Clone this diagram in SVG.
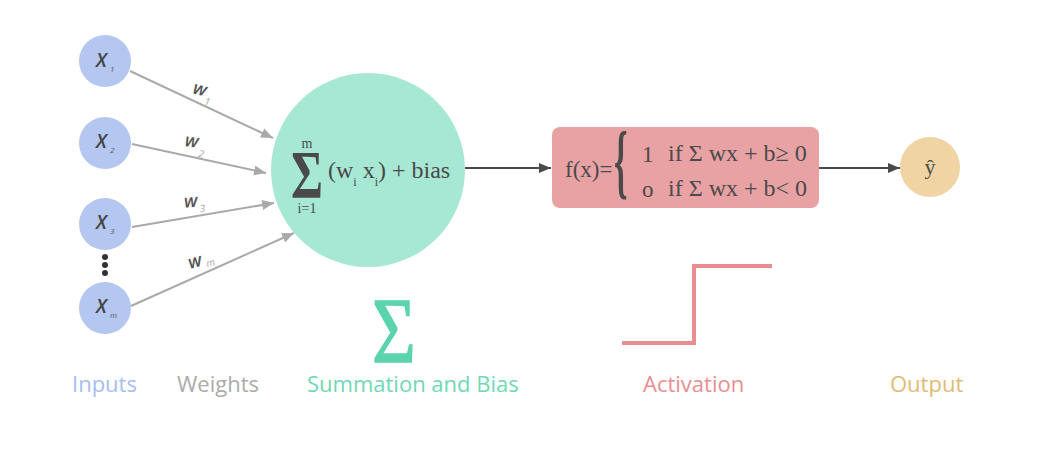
<svg xmlns="http://www.w3.org/2000/svg" width="1048" height="454" viewBox="0 0 1048 454">
<style>
.inp{fill:#b4c7f0}
.xl{font-family:"Open Sans","DejaVu Sans",sans-serif;font-style:italic;font-weight:600;font-size:19px;fill:#444}
.xs{font-family:"Open Sans","DejaVu Sans",sans-serif;font-style:italic;font-size:8px;fill:#555}
.wl{font-family:"Open Sans","DejaVu Sans",sans-serif;font-style:italic;font-weight:600;font-size:18px;fill:#555}
.ws{font-family:"Open Sans","DejaVu Sans",sans-serif;font-style:italic;font-size:10px;fill:#aaa}
.wire{stroke:#a9a9a9;stroke-width:2;fill:none}
.dark{stroke:#4a4a4a;stroke-width:2;fill:none}
.ser{font-family:"Liberation Serif","DejaVu Serif",serif;fill:#4a4a4a}
.cap{font-family:"Open Sans","DejaVu Sans",sans-serif;font-size:22px}
</style>
<defs>
<marker id="ag" viewBox="0 0 12 10" refX="12" refY="5" markerWidth="12" markerHeight="10" markerUnits="userSpaceOnUse" orient="auto"><path d="M0,0 L12,5 L0,10 Z" fill="#a9a9a9"/></marker>
<marker id="ad" viewBox="0 0 12 10" refX="12" refY="5" markerWidth="12" markerHeight="10" markerUnits="userSpaceOnUse" orient="auto"><path d="M0,0 L12,5 L0,10 Z" fill="#4a4a4a"/></marker>
</defs>

<g id="connectors">
<line class="wire" x1="130" y1="71" x2="273" y2="138" marker-end="url(#ag)"/>
<line class="wire" x1="132" y1="144" x2="266" y2="173" marker-end="url(#ag)"/>
<line class="wire" x1="132" y1="227" x2="274" y2="203" marker-end="url(#ag)"/>
<line class="wire" x1="131" y1="306" x2="294" y2="233" marker-end="url(#ag)"/>
<line class="dark" x1="465" y1="168" x2="551" y2="168" marker-end="url(#ad)"/>
<line class="dark" x1="819" y1="168" x2="900" y2="168" marker-end="url(#ad)"/>
</g>

<g id="weights">
<g transform="rotate(14 200 90)"><text class="wl" x="193" y="95">w</text><text class="ws" x="207" y="103">1</text></g>
<g transform="rotate(8 192 142)"><text class="wl" x="185" y="147">w</text><text class="ws" x="200" y="156">2</text></g>
<g transform="rotate(-5 192 202)"><text class="wl" x="184" y="207">w</text><text class="ws" x="199" y="213">3</text></g>
<g transform="rotate(-16 200 260)"><text class="wl" x="188" y="266">w</text><text class="ws" x="205" y="269">m</text></g>
</g>

<g id="x1"><circle class="inp" cx="105" cy="61" r="26"/><text class="xl" x="96" y="67">X</text><text class="xs" x="110" y="72">1</text></g>
<g id="x2"><circle class="inp" cx="105" cy="143" r="26"/><text class="xl" x="96" y="148">X</text><text class="xs" x="110" y="153">2</text></g>
<g id="x3"><circle class="inp" cx="105" cy="224" r="26"/><text class="xl" x="96" y="229">X</text><text class="xs" x="110" y="234">3</text></g>
<g id="dots"><circle cx="105" cy="257" r="3" fill="#333"/><circle cx="105" cy="265" r="3" fill="#333"/><circle cx="105" cy="273" r="3" fill="#333"/></g>
<g id="xm"><circle class="inp" cx="105" cy="308" r="26"/><text class="xl" x="96" y="313">X</text><text class="xs" x="110" y="318">m</text></g>

<g id="summation">
<circle cx="368" cy="170" r="97" fill="#a6e8d4"/>
<text class="ser" x="307" y="148" font-size="14" text-anchor="middle">m</text>
<text class="ser" font-size="68" font-weight="bold" text-anchor="middle" transform="translate(307 197) scale(0.72 1)" x="0" y="0">Σ</text>
<text class="ser" x="307" y="213" font-size="14" text-anchor="middle">i=1</text>
<text class="ser" x="328" y="178" font-size="24">(w<tspan font-size="12" dy="8">i</tspan><tspan dy="-8"> x</tspan><tspan font-size="12" dy="8">i</tspan><tspan dy="-8">) + bias</tspan></text>
</g>

<g id="activation">
<rect x="552" y="127" width="267" height="81" rx="8" fill="#e8a2a4"/>
<text class="ser" x="565" y="177" font-size="23">f(x)=</text>
<text class="ser" font-size="82" font-weight="bold" transform="translate(614 188) scale(0.42 1)" x="0" y="0">{</text>
<text class="ser" x="642" y="162" font-size="23">1</text>
<text class="ser" x="642" y="197" font-size="23">o</text>
<text class="ser" x="668" y="161" font-size="24">if Σ wx + b≥ 0</text>
<text class="ser" x="668" y="196" font-size="24">if Σ wx + b&lt; 0</text>
</g>

<g id="output">
<circle cx="930" cy="167" r="30" fill="#f0d4a4"/>
<text class="ser" x="930" y="174" font-size="22" text-anchor="middle">ŷ</text>
</g>

<g id="sigma-icon"><text font-family="Liberation Serif,serif" font-size="94" fill="#5ad4ad" text-anchor="middle" stroke="#5ad4ad" stroke-width="1.5" transform="translate(394 362) scale(0.8 1)" x="0" y="0">Σ</text></g>
<g id="step"><polyline points="622,343 694,343 694,266 772,266" fill="none" stroke="#e88e91" stroke-width="4"/></g>

<g id="captions">
<text class="cap" x="72" y="392" fill="#a8bdf0">Inputs</text>
<text class="cap" x="177" y="392" fill="#ababab">Weights</text>
<text class="cap" x="307" y="392" fill="#6fd8b6">Summation and Bias</text>
<text class="cap" x="643" y="392" fill="#e88e91">Activation</text>
<text class="cap" x="890" y="392" fill="#e0bb74">Output</text>
</g>
</svg>
